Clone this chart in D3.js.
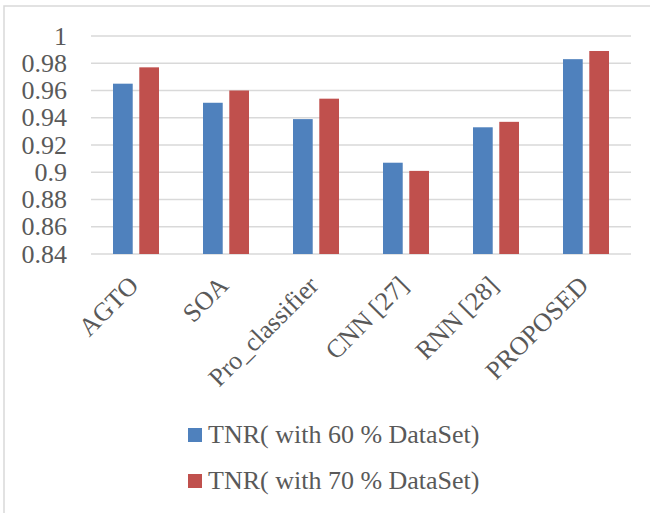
<!DOCTYPE html>
<html>
<head>
<meta charset="utf-8">
<script src="https://cdn.jsdelivr.net/npm/d3@7"></script>
<style>
  body { margin: 0; background: #fff; }
  text { font-family: "Liberation Serif", "Times New Roman", serif; fill: #595959; }
</style>
</head>
<body>
<div id="chart"></div>
<script>
// data
const categories = ["AGTO", "SOA", "Pro_classifier", "CNN [27]", "RNN [28]", "PROPOSED"];
const seriesNames = ["TNR( with 60 % DataSet)", "TNR( with 70 % DataSet)"];
const tnr60 = [0.965, 0.951, 0.939, 0.907, 0.933, 0.983];
const tnr70 = [0.977, 0.960, 0.954, 0.901, 0.937, 0.989];
const yTicks = [0.84, 0.86, 0.88, 0.9, 0.92, 0.94, 0.96, 0.98, 1];
const colors = ["#4f81bd", "#c0504d"];

const width = 650, height = 513;
const plot = { left: 91, right: 631, top: 36, bottom: 254 };
const fontSize = 26;

const svg = d3.select("#chart").append("svg")
    .attr("width", width)
    .attr("height", height);

// chart frame (runs off the right / bottom edge)
svg.append("rect")
    .attr("x", 4).attr("y", 6)
    .attr("width", 680).attr("height", 540)
    .attr("fill", "none")
    .attr("stroke", "#d9d9d9")
    .attr("stroke-width", 1.5);

const x = d3.scaleBand().domain(categories).range([plot.left, plot.right]);
const x1 = d3.scaleBand().domain(seriesNames).range([-23, 23]).paddingInner(0.25);
const y = d3.scaleLinear().domain([0.84, 1]).range([plot.bottom, plot.top]);

// gridlines
svg.selectAll(".grid")
    .data(yTicks)
    .enter()
    .append("line")
    .attr("class", "grid")
    .attr("x1", plot.left).attr("x2", plot.right)
    .attr("y1", d => y(d)).attr("y2", d => y(d))
    .attr("stroke", "#d9d9d9")
    .attr("stroke-width", 1.5);

// y labels
svg.selectAll(".ylab")
    .data(yTicks)
    .enter()
    .append("text")
    .attr("class", "ylab")
    .attr("x", 67)
    .attr("y", d => y(d))
    .attr("dy", "0.33em")
    .attr("text-anchor", "end")
    .style("font-size", fontSize + "px")
    .text(d => d3.format("")(+d.toFixed(2)));

// bars
const rows = categories.map((c, i) => ({ cat: c, vals: [tnr60[i], tnr70[i]] }));
const groups = svg.selectAll(".grp")
    .data(rows)
    .enter()
    .append("g")
    .attr("transform", d => `translate(${x(d.cat) + x.bandwidth() / 2},0)`);

groups.selectAll("rect")
    .data(d => d.vals.map((v, k) => ({ name: seriesNames[k], value: v, k: k })))
    .enter()
    .append("rect")
    .attr("x", d => x1(d.name))
    .attr("width", x1.bandwidth())
    .attr("y", d => y(d.value))
    .attr("height", d => y(0.84) - y(d.value))
    .attr("fill", d => colors[d.k]);

// category labels, rotated
svg.selectAll(".xlab")
    .data(categories)
    .enter()
    .append("text")
    .attr("class", "xlab")
    .attr("transform", d => `translate(${x(d) + x.bandwidth() / 2 + 4},287) rotate(-45)`)
    .attr("text-anchor", "end")
    .style("font-size", fontSize + "px")
    .text(d => d);

// legend
const legend = svg.selectAll(".leg")
    .data(seriesNames)
    .enter()
    .append("g")
    .attr("transform", (d, i) => `translate(188,${435 + i * 46})`);

legend.append("rect")
    .attr("x", 0).attr("y", -7)
    .attr("width", 14).attr("height", 14)
    .attr("fill", (d, i) => colors[i]);

legend.append("text")
    .attr("x", 20)
    .attr("y", 8)
    .style("font-size", fontSize + "px")
    .text(d => d);
</script>
</body>
</html>
